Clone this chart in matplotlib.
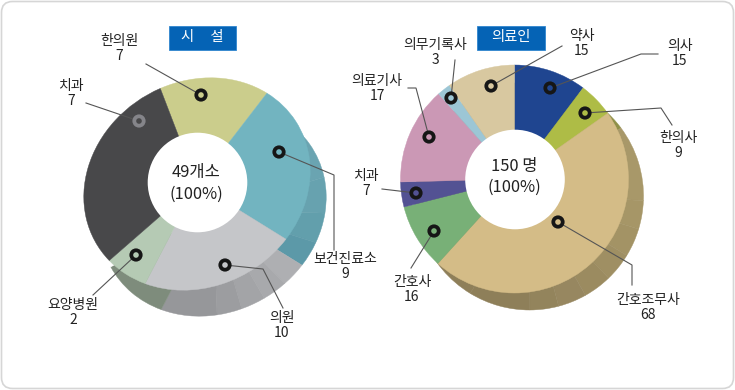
import matplotlib
matplotlib.use("Agg")
import numpy as np
import matplotlib.pyplot as plt
from matplotlib.patches import Circle, FancyBboxPatch, Rectangle
from matplotlib.transforms import Affine2D

plt.rcParams['font.family'] = ['Noto Sans CJK KR', 'DejaVu Sans']

# ---- data: facilities (slice shares, clockwise from 한의원)
fac_names = ['한의원', '보건진료소', '의원', '요양병원', '치과']
fac_counts = [7, 9, 10, 2, 7]
fac_shares = [58.6, 84.2, 85.7, 21.4, 110.1]
fac_colors = ['#cbcd8c', '#72b4c0', '#c5c6c9', '#b5cab4', '#48484a']
fac_total = '49개소'

# ---- data: medical personnel (clockwise from 의사)
med_names = ['의사', '한의사', '간호조무사', '간호사', '치과', '의료기사', '의무기록사', '약사']
med_counts = [15, 9, 68, 16, 7, 17, 3, 15]
med_shares = [37.0, 17.8, 167.4, 33.6, 12.7, 49.8, 6.9, 34.8]
med_colors = ['#1f4590', '#aebc46', '#d4bc87', '#78b077', '#535293', '#cb98b5', '#9cc6d5', '#d8c8a0']
med_total = '150 명'

# ---- side-wall shading, as slices of the same shape (clockwise)
fac_wall_sizes = [36, 18, 16, 14.2, 14, 14, 14, 14, 29.7, 33.4, 156.7]
fac_wall_colors = ['#6aa4b1', '#67a2af', '#629fac', '#5c99a8', '#aeafb2', '#a8a9ac', '#a3a4a7',
                   '#9c9da0', '#96979a', '#7e8c7c', '#ffffff']
med_wall_sizes = [54.8, 40, 15, 15, 15, 15, 15, 15, 32.4, 152.8]
med_wall_colors = ['#8f9048', '#a89869', '#a69667', '#a39365', '#9f8f63', '#9b8b60', '#978760',
                   '#93845c', '#8e7f59', '#8e7f59']

W, H = 735, 390
fig = plt.figure(figsize=(W / 100, H / 100), dpi=100, facecolor='white')
pa = fig.add_axes([0, 0, 1, 1], zorder=1)


def pie(centre, semi, tilt, sizes, colors, start_cw, z):
    """Pie on an ellipse (semi axes, tilt); sizes are true angles clockwise from north."""
    a, b = semi
    cw = start_cw + np.concatenate([[0], np.cumsum(sizes)])
    beta = np.radians(90 - cw - tilt)
    phi = np.degrees(np.unwrap(np.arctan2(np.sin(beta) / b, np.cos(beta) / a)))
    wedges, _ = pa.pie(-np.diff(phi), colors=colors, startangle=phi[0], counterclock=False,
                       radius=1, normalize=True, wedgeprops=dict(linewidth=0.3))
    tr = Affine2D().scale(a, b).rotate_deg(tilt).translate(centre[0], H - centre[1]) + pa.transData
    for w, c in zip(wedges, colors):
        w.set_edgecolor(c)
        w.set_transform(tr)
        w.set_zorder(z)


FAC_SEMI, FAC_TILT = (117, 102), 31
MED_SEMI, MED_TILT = (114, 114), 0
pie((213, 210), FAC_SEMI, FAC_TILT, fac_wall_sizes, fac_wall_colors, 37.6, 1)
pie((197, 184), FAC_SEMI, FAC_TILT, fac_shares, fac_colors, -21, 2)
pie((529.5, 196), MED_SEMI, MED_TILT, med_wall_sizes, med_wall_colors, 0, 1)
pie((514.5, 179), MED_SEMI, MED_TILT, med_shares, med_colors, 0, 2)
pa.set_aspect('auto')
pa.set_xlim(0, W)
pa.set_ylim(0, H)
pa.set_frame_on(False)

ov = fig.add_axes([0, 0, 1, 1], zorder=5)
ov.set_xlim(0, W)
ov.set_ylim(H, 0)
ov.axis('off')
ov.patch.set_alpha(0)

# card outline
ov.add_patch(FancyBboxPatch((1.5, 1.5), W - 3, H - 3, boxstyle='round,pad=0,rounding_size=11',
                            fc='none', ec='#d6d6d6', lw=1.2, zorder=0))

# donut holes
ov.add_patch(Circle((197.5, 182.5), 49.8, fc='white', ec='none', zorder=1))
ov.add_patch(Circle((515, 179.5), 49.8, fc='white', ec='none', zorder=1))

# title boxes
for (x, w, t) in [(169, 67, '시     설'), (477, 68, '의료인')]:
    ov.add_patch(Rectangle((x, 25.5), w, 24.5, fc='#0563b5', ec='#2f86cf', lw=0.6, zorder=2))
    ov.text(x + w / 2, 37, t, color='white', fontsize=10.3, ha='center', va='center', zorder=3)

# centre text
TXT = '#222222'
for x, y0, t in [(196, 173, fac_total), (514, 166, med_total)]:
    ov.text(x, y0, t, fontsize=11.9, color=TXT, ha='center', va='center', zorder=3)
    ov.text(x, y0 + 21, '(100%)', fontsize=11.9, color=TXT, ha='center', va='center', zorder=3)

# layout of callouts: label centre, leader path from the marker
fac_layout = {
    '한의원': ((119, 41), [(201, 95), (146, 64)]),
    '보건진료소': ((345, 259), [(279, 152), (334, 175), (334, 250)]),
    '의원': ((282, 318), [(225, 265), (263, 269), (283, 308)]),
    '요양병원': ((73, 305), [(136, 255), (93, 295)]),
    '치과': ((71, 86), [(139, 121), (86, 103)]),
}
med_layout = {
    '의사': ((680, 46), [(550, 88), (641, 54), (658, 54)]),
    '한의사': ((678, 138), [(585, 113), (661, 108), (672, 125)]),
    '간호조무사': ((648, 300), [(558, 222), (632, 265), (632, 285)]),
    '간호사': ((412, 282), [(434, 231), (411, 268)]),
    '치과': ((366, 176), [(416, 193), (382, 189)]),
    '의료기사': ((377, 81), [(429, 137), (416, 88), (408, 88)]),
    '의무기록사': ((435, 45), [(451, 98), (455, 60)]),
    '약사': ((582, 36), [(491, 86), (562, 46)]),
}


def callouts(names, counts, colors, layout):
    for n, c, col in zip(names, counts, colors):
        (lx, ly), path = layout[n]
        ov.plot([p[0] for p in path], [p[1] for p in path], color='#555555', lw=0.8,
                zorder=3, solid_joinstyle='miter')
        ring = '#85858a' if col == '#48484a' else '#161616'
        ov.add_patch(Circle(path[0], 6.6, fc=ring, ec='none', zorder=4))
        ov.add_patch(Circle(path[0], 2.8, fc=col, ec='none', zorder=5))
        ov.text(lx, ly, n, fontsize=10.0, color=TXT, ha='center', va='center', zorder=6)
        ov.text(lx, ly + 15, str(c), fontsize=10.0, color=TXT, ha='center', va='center', zorder=6)


callouts(fac_names, fac_counts, fac_colors, fac_layout)
callouts(med_names, med_counts, med_colors, med_layout)

fig.savefig('out.png', dpi=100)
